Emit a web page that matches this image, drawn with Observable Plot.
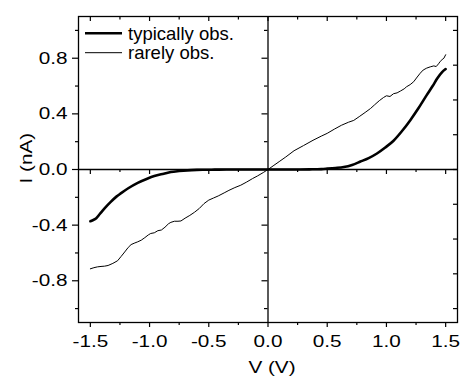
<!DOCTYPE html>
<html><head><meta charset="utf-8">
<script src="https://cdn.jsdelivr.net/npm/d3@7"></script>
<script src="https://cdn.jsdelivr.net/npm/@observablehq/plot@0.6"></script>
<style>
html,body{margin:0;padding:0;background:#fff;}
#chart{width:461px;height:378px;}
</style></head><body><div id="chart"></div>
<script>
const seriesNames = ["typically obs.", "rarely obs."];
const typV = [-1.5,-1.48,-1.45,-1.42,-1.38,-1.33,-1.28,-1.24,-1.18,-1.1,-1.02,-0.96,-0.88,-0.82,-0.75,-0.68,-0.6,-0.54,-0.45,-0.35,-0.25,-0.15,0,0.15,0.25,0.35,0.45,0.5,0.57,0.64,0.71,0.78,0.85,0.92,0.99,1.06,1.13,1.2,1.27,1.34,1.39,1.43,1.47,1.5];
const typI = [-0.372,-0.365,-0.35,-0.32,-0.28,-0.235,-0.195,-0.17,-0.135,-0.096,-0.066,-0.047,-0.03,-0.018,-0.011,-0.006,-0.003,-0.002,-0.001,0,0,0,0,0,0,0.001,0.003,0.006,0.011,0.018,0.033,0.057,0.082,0.115,0.158,0.207,0.275,0.353,0.44,0.535,0.6,0.656,0.7,0.722];
const rareV = [-1.5,-1.47,-1.44,-1.41,-1.38,-1.35,-1.31,-1.27,-1.24,-1.21,-1.18,-1.156,-1.13,-1.1,-1.07,-1.04,-1.01,-0.99,-0.96,-0.93,-0.9,-0.87,-0.84,-0.82,-0.79,-0.76,-0.735,-0.7,-0.66,-0.62,-0.58,-0.54,-0.5,-0.46,-0.42,-0.37,-0.33,-0.28,-0.23,-0.18,-0.13,-0.09,-0.04,0,0.05,0.1,0.15,0.22,0.3,0.38,0.45,0.5,0.56,0.62,0.68,0.724,0.77,0.82,0.865,0.9,0.94,0.976,1.0,1.03,1.06,1.09,1.12,1.15,1.17,1.2,1.23,1.26,1.285,1.31,1.34,1.37,1.4,1.42,1.44,1.454,1.47,1.485,1.5];
const rareI = [-0.714,-0.706,-0.7,-0.697,-0.695,-0.69,-0.675,-0.656,-0.625,-0.593,-0.56,-0.54,-0.53,-0.52,-0.508,-0.49,-0.47,-0.46,-0.455,-0.44,-0.435,-0.415,-0.39,-0.38,-0.372,-0.372,-0.37,-0.35,-0.33,-0.307,-0.28,-0.245,-0.22,-0.205,-0.19,-0.168,-0.15,-0.13,-0.113,-0.09,-0.065,-0.047,-0.022,0,0.03,0.06,0.09,0.135,0.172,0.21,0.24,0.26,0.29,0.318,0.34,0.353,0.38,0.41,0.438,0.465,0.495,0.518,0.53,0.525,0.545,0.551,0.565,0.58,0.595,0.61,0.631,0.665,0.692,0.715,0.729,0.738,0.745,0.74,0.76,0.777,0.79,0.8,0.825];
const xTicks = [-1.5,-1,-0.5,0,0.5,1,1.5];
const xMinor = [-1.25,-0.75,-0.25,0.25,0.75,1.25];
const yTicks = [-0.8,-0.4,0,0.4,0.8];
const yMinor = [-1,-0.6,-0.2,0.2,0.6,1];
const yRight = [-1,-0.75,-0.5,-0.25,0,0.25,0.5,0.75,1];
const xLabel = "V (V)";
const yLabel = "I (nA)";
const xDomain = [-1.6, 1.6];
const yDomain = [-1.1, 1.1];

const typical = typV.map((v, i) => ({V: v, I: typI[i]}));
const rare = rareV.map((v, i) => ({V: v, I: rareI[i]}));
const fmt = d => d.toFixed(1);
const font = "'Liberation Sans', Arial, sans-serif";
const k = "#000";
const sw = 1.2;
const c = v => () => v;

const plot = Plot.plot({
  width: 461, height: 378,
  marginLeft: 78, marginRight: 4, marginTop: 16, marginBottom: 56,
  style: {fontFamily: font, fontSize: "17px", color: k, background: "#fff", overflow: "visible"},
  x: {domain: xDomain},
  y: {domain: yDomain},
  marks: [
    Plot.frame({stroke: k, strokeWidth: 1.3}),
    Plot.ruleY([0], {stroke: k, strokeWidth: 1.3}),
    Plot.ruleX([0], {stroke: k, strokeWidth: 1.3}),
    // ticks on the zero lines
    Plot.ruleX(xTicks.filter(d => d !== 0), {x: d => d, y1: c(0), y2: c(0), insetBottom: -5, stroke: k, strokeWidth: sw}),
    Plot.ruleX(xMinor, {x: d => d, y1: c(0), y2: c(0), insetBottom: -3, stroke: k, strokeWidth: sw}),
    Plot.ruleY(yTicks.filter(d => d !== 0), {y: d => d, x1: c(0), x2: c(0), insetLeft: -6, stroke: k, strokeWidth: sw}),
    Plot.ruleY(yMinor, {y: d => d, x1: c(0), x2: c(0), insetLeft: -3.5, stroke: k, strokeWidth: sw}),
    // top frame ticks (inward)
    Plot.ruleX(xTicks, {x: d => d, y1: c(yDomain[1]), y2: c(yDomain[1]), insetBottom: -5, stroke: k, strokeWidth: sw}),
    Plot.ruleX(xMinor, {x: d => d, y1: c(yDomain[1]), y2: c(yDomain[1]), insetBottom: -3.5, stroke: k, strokeWidth: sw}),
    // right frame ticks (inward)
    Plot.ruleY(yRight, {y: d => d, x1: c(xDomain[1]), x2: c(xDomain[1]), insetLeft: -4, stroke: k, strokeWidth: sw}),
    // bottom/left minor ticks (outward)
    Plot.ruleX(xMinor, {x: d => d, y1: c(yDomain[0]), y2: c(yDomain[0]), insetBottom: -3, stroke: k, strokeWidth: sw}),
    Plot.ruleY(yMinor, {y: d => d, x1: c(xDomain[0]), x2: c(xDomain[0]), insetLeft: -3, stroke: k, strokeWidth: sw}),
    // major axes
    Plot.axisX({ticks: xTicks, tickSize: 5, tickPadding: 7, tickFormat: fmt, label: null, stroke: k, strokeWidth: sw, fill: k}),
    Plot.axisY({ticks: yTicks, tickSize: 6, tickPadding: 5, tickFormat: fmt, label: null, stroke: k, strokeWidth: sw, fill: k}),
    // curves
    Plot.line(rare, {x: "V", y: "I", stroke: k, strokeWidth: 1}),
    Plot.line(typical, {x: "V", y: "I", stroke: k, strokeWidth: 2.6, curve: "monotone-x"}),
    // axis titles
    Plot.text([xLabel], {frameAnchor: "bottom", lineAnchor: "bottom", dy: 50, dx: 4, fill: k, fontSize: 17}),
    Plot.text([yLabel], {frameAnchor: "left", lineAnchor: "bottom", rotate: -90, dx: -47, dy: 14, fill: k, fontSize: 17})
  ]
});

// horizontally widen the axis texts, as in the reference
d3.select(plot).selectAll("text").each(function () {
  const t = this.getAttribute("transform");
  if (t) this.setAttribute("transform", t + " scale(1.22,1)");
});

// legend inside the frame
const svg = d3.select(plot);
const leg = svg.append("g").attr("font-family", font).attr("font-size", 18.5).attr("text-anchor", "start");
const widths = [2.6, 1];
seriesNames.forEach((name, i) => {
  const y = 33.3 + i * 19.4;
  leg.append("line").attr("x1", 85).attr("x2", 122).attr("y1", y).attr("y2", y)
    .attr("stroke", k).attr("stroke-width", widths[i]);
  leg.append("text").attr("x", 128).attr("y", y + 6.6).attr("fill", k)
    .style("font-size", "18.5px").text(name);
});

document.getElementById("chart").append(plot);
</script></body></html>
